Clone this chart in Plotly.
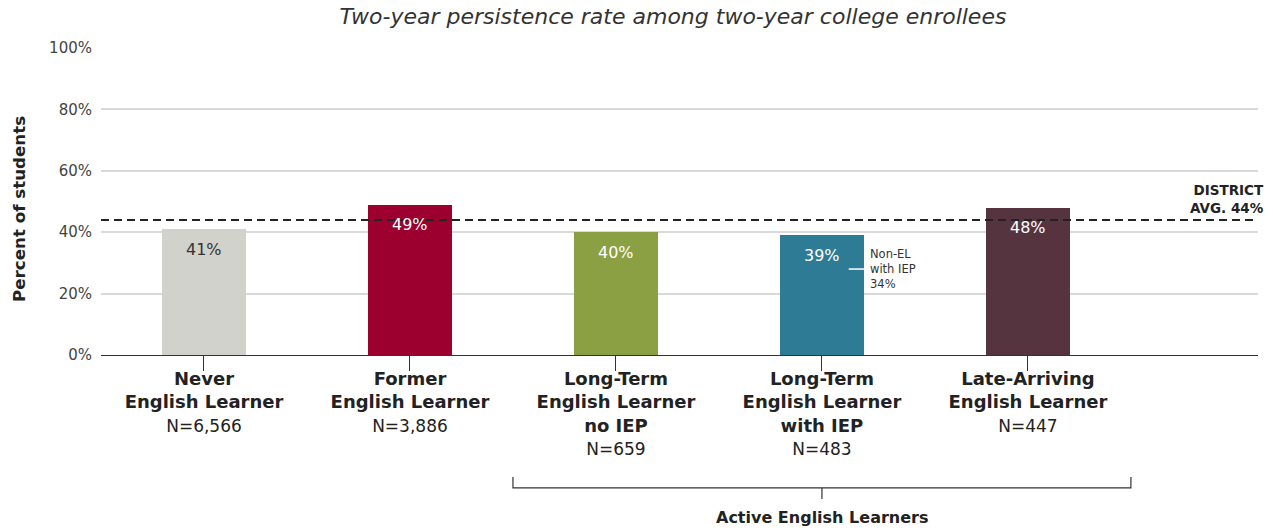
import plotly.graph_objects as go

categories = ["Never<br>English Learner", "Former<br>English Learner",
              "Long-Term<br>English Learner<br>no IEP", "Long-Term<br>English Learner<br>with IEP",
              "Late-Arriving<br>English Learner"]
n_labels = ["N=6,566", "N=3,886", "N=659", "N=483", "N=447"]
values = [41, 49, 40, 39, 48]
value_labels = ["41%", "49%", "40%", "39%", "48%"]
bar_colors = ["#D1D2CC", "#9B002F", "#8BA043", "#2E7B96", "#55333F"]
label_colors = ["#333333", "#FFFFFF", "#FFFFFF", "#FFFFFF", "#FFFFFF"]
district_avg = 44
non_el_iep = 34
non_el_iep_marker = 28
y_ticks = [0, 20, 40, 60, 80, 100]
y_ticklabels = ["0%", "20%", "40%", "60%", "80%", "100%"]

FONT = "DejaVu Sans"
idx = list(range(len(categories)))
ticktext = [f"<b>{c}</b><br><span style='font-size:17px'>{n}</span>" for c, n in zip(categories, n_labels)]

fig = go.Figure()
fig.add_trace(go.Bar(x=idx, y=values, marker=dict(color=bar_colors, line=dict(width=0)),
                     width=0.41, hoverinfo="skip"))

annotations = []
for i, (v, t, c) in enumerate(zip(values, value_labels, label_colors)):
    annotations.append(dict(x=i, y=v, xref="x", yref="y", text=t, showarrow=False,
                            yanchor="middle", yshift=-20, font=dict(size=16, color=c, family=FONT)))

# District average label
annotations.append(dict(x=1.0, xref="paper", xanchor="right", y=district_avg, yref="y",
                        yanchor="bottom", yshift=2, xshift=8, align="right",
                        text="<b>DISTRICT<br>AVG. 44%</b>", showarrow=False,
                        font=dict(size=13.5, color="#222222", family=FONT)))
# Non-EL with IEP note
annotations.append(dict(x=3 + 0.205, xref="x", xanchor="left", xshift=4, y=non_el_iep_marker, yref="y",
                        yanchor="middle", align="left",
                        text=f"Non-EL<br>with IEP<br>{non_el_iep}%", showarrow=False,
                        font=dict(size=11.5, color="#333333", family=FONT)))
# Active English Learners
annotations.append(dict(x=3, xref="x", y=-0.528, yref="paper", yanchor="middle",
                        text="<b>Active English Learners</b>", showarrow=False,
                        font=dict(size=16, color="#222222", family=FONT)))
# Y-axis title
annotations.append(dict(x=-0.0709, xref="paper", y=0.4756, yref="paper", textangle=-90,
                        xanchor="center", yanchor="middle",
                        text="<b>Percent of students</b>", showarrow=False,
                        font=dict(size=16.7, color="#222222", family=FONT)))

shapes = [
    dict(type="line", xref="paper", x0=0, x1=1, yref="y", y0=district_avg, y1=district_avg,
         line=dict(color="#222222", width=2, dash="8px,5px"), layer="above"),
    dict(type="line", xref="x", x0=3 + 0.13, x1=3 + 0.205, yref="y", y0=non_el_iep_marker, y1=non_el_iep_marker,
         line=dict(color="#FFFFFF", width=1.5)),
    dict(type="path", xref="x", yref="paper",
         path="M 1.5,-0.397 L 1.5,-0.433 L 4.5,-0.433 L 4.5,-0.397",
         line=dict(color="#333333", width=1.2)),
    dict(type="line", xref="x", yref="paper", x0=3, x1=3, y0=-0.433, y1=-0.469,
         line=dict(color="#333333", width=1.2)),
]

fig.update_layout(
    width=1273, height=532,
    margin=dict(l=101, r=15, t=48, b=177),
    plot_bgcolor="white", paper_bgcolor="white",
    showlegend=False,
    title=dict(text="<i>Two-year persistence rate among two-year college enrollees</i>",
               x=0.5286, xanchor="center", y=0.969, yanchor="middle",
               font=dict(size=22, color="#333333", family=FONT)),
    font=dict(family=FONT, color="#222222"),
    annotations=annotations,
    shapes=shapes,
    bargap=0,
)
fig.update_xaxes(range=[-0.5, 5.117], tickmode="array", tickvals=idx, ticktext=ticktext,
                 tickson="boundaries", ticks="outside", ticklen=15, tickcolor="#333333", tickwidth=1.2,
                 showline=True, linecolor="#333333", linewidth=1.2, showgrid=False, zeroline=False,
                 ticklabelstandoff=-8,
                 tickfont=dict(size=18, color="#222222", family=FONT))
fig.update_yaxes(range=[0, 100], tickvals=y_ticks, ticktext=y_ticklabels,
                 showgrid=True, gridcolor="#D9D9D9", gridwidth=1.5, zeroline=False,
                 ticks="", ticklabelstandoff=8,
                 tickfont=dict(size=15, color="#444444", family=FONT))

fig.write_html("out.html")
